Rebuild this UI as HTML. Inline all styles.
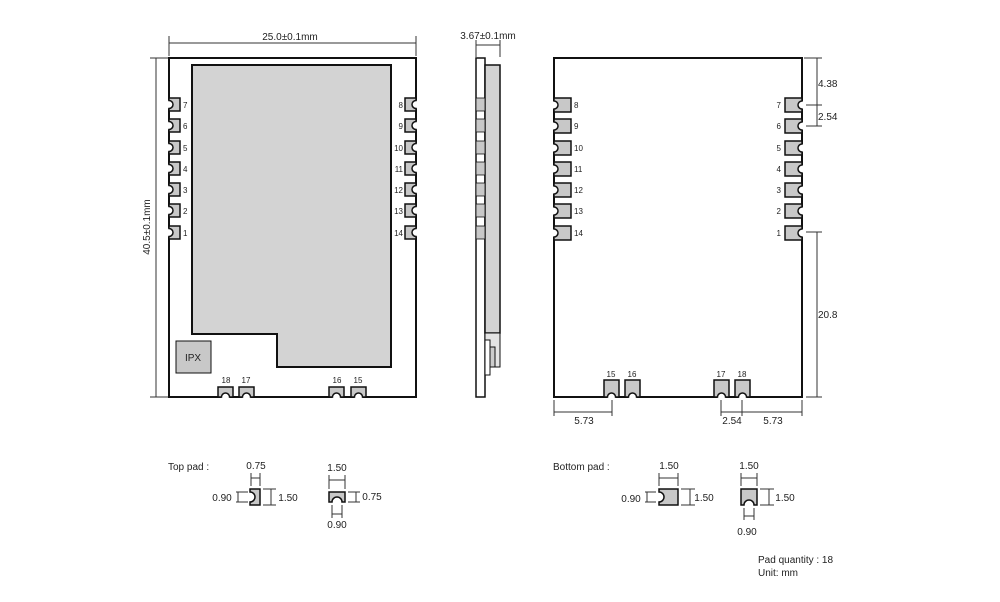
<!DOCTYPE html>
<html><head><meta charset="utf-8"><style>
html,body{margin:0;padding:0;background:#fff;}
svg{display:block;font-family:"Liberation Sans",sans-serif;}
.t{font-size:10px;fill:#222;}
.s{font-size:8px;fill:#222;}
.p{fill:#c8c8c8;stroke:#111;stroke-width:1.5;}
.d{stroke:#333;stroke-width:1;fill:none;}
</style></head><body>
<svg width="1000" height="602" viewBox="0 0 1000 602">
<!-- TOP VIEW -->
<rect x="169" y="58" width="247" height="339" fill="#fff" stroke="#111" stroke-width="2"/>
<path d="M192 65H391V367H277V334H192Z" fill="#d3d3d3" stroke="#111" stroke-width="2"/>
<rect x="176" y="341" width="35" height="32" fill="#c8c8c8" stroke="#111" stroke-width="1"/>
<text x="193" y="361" class="t" text-anchor="middle">IPX</text>
<!-- notch whites -->
<g fill="#fff">
<rect x="166" y="100.5" width="6" height="8"/><rect x="166" y="121.5" width="6" height="8"/><rect x="166" y="143.5" width="6" height="8"/><rect x="166" y="164.5" width="6" height="8"/><rect x="166" y="185.5" width="6" height="8"/><rect x="166" y="206.5" width="6" height="8"/><rect x="166" y="228.5" width="6" height="8"/>
<rect x="413" y="100.5" width="6" height="8"/><rect x="413" y="121.5" width="6" height="8"/><rect x="413" y="143.5" width="6" height="8"/><rect x="413" y="164.5" width="6" height="8"/><rect x="413" y="185.5" width="6" height="8"/><rect x="413" y="206.5" width="6" height="8"/><rect x="413" y="228.5" width="6" height="8"/>
<rect x="221.5" y="394" width="8" height="6"/><rect x="242.5" y="394" width="8" height="6"/><rect x="332.5" y="394" width="8" height="6"/><rect x="354.5" y="394" width="8" height="6"/>
</g>
<g class="p">
<path d="M169 98H180V111H169V108.5A4 4 0 0 0 169 100.5Z"/>
<path d="M169 119H180V132H169V129.5A4 4 0 0 0 169 121.5Z"/>
<path d="M169 141H180V154H169V151.5A4 4 0 0 0 169 143.5Z"/>
<path d="M169 162H180V175H169V172.5A4 4 0 0 0 169 164.5Z"/>
<path d="M169 183H180V196H169V193.5A4 4 0 0 0 169 185.5Z"/>
<path d="M169 204H180V217H169V214.5A4 4 0 0 0 169 206.5Z"/>
<path d="M169 226H180V239H169V236.5A4 4 0 0 0 169 228.5Z"/>
<path d="M416 98H405V111H416V108.5A4 4 0 0 1 416 100.5Z"/>
<path d="M416 119H405V132H416V129.5A4 4 0 0 1 416 121.5Z"/>
<path d="M416 141H405V154H416V151.5A4 4 0 0 1 416 143.5Z"/>
<path d="M416 162H405V175H416V172.5A4 4 0 0 1 416 164.5Z"/>
<path d="M416 183H405V196H416V193.5A4 4 0 0 1 416 185.5Z"/>
<path d="M416 204H405V217H416V214.5A4 4 0 0 1 416 206.5Z"/>
<path d="M416 226H405V239H416V236.5A4 4 0 0 1 416 228.5Z"/>
<path d="M218 397V387H233V397H229.5A4 4 0 0 0 221.5 397Z"/>
<path d="M239 397V387H254V397H250.5A4 4 0 0 0 242.5 397Z"/>
<path d="M329 397V387H344V397H340.5A4 4 0 0 0 332.5 397Z"/>
<path d="M351 397V387H366V397H362.5A4 4 0 0 0 354.5 397Z"/>
</g>
<g class="s">
<text x="183" y="108">7</text><text x="183" y="129">6</text><text x="183" y="151">5</text><text x="183" y="172">4</text><text x="183" y="193">3</text><text x="183" y="214">2</text><text x="183" y="236">1</text>
<g text-anchor="end"><text x="403" y="108">8</text><text x="403" y="129">9</text><text x="403" y="151">10</text><text x="403" y="172">11</text><text x="403" y="193">12</text><text x="403" y="214">13</text><text x="403" y="236">14</text></g>
<g text-anchor="middle"><text x="226" y="383">18</text><text x="246" y="383">17</text><text x="337" y="383">16</text><text x="358" y="383">15</text></g>
</g>
<!-- dims top view -->
<path class="d" d="M169 43H416M169 36V56M416 36V56M156 58V397M150 58H168M150 397H168"/>
<text x="290" y="40" class="t" text-anchor="middle">25.0±0.1mm</text>
<text x="0" y="0" class="t" text-anchor="middle" transform="translate(150 227) rotate(-90)">40.5±0.1mm</text>

<!-- SIDE VIEW -->
<rect x="476" y="58" width="9" height="339" fill="#fff" stroke="#111" stroke-width="1.5"/>
<rect x="485" y="65" width="15" height="268" fill="#d3d3d3" stroke="#111" stroke-width="1.5"/>
<rect x="485" y="333" width="15" height="34" fill="#e4e4e4" stroke="#111" stroke-width="1"/>
<rect x="485" y="340" width="5" height="35" fill="#fff" stroke="#111" stroke-width="1"/>
<rect x="490" y="347" width="5" height="20" fill="#ccc" stroke="#111" stroke-width="1"/>
<g fill="#c8c8c8" stroke="#111" stroke-width="0.8">
<rect x="476" y="98" width="9" height="13"/><rect x="476" y="119" width="9" height="13"/><rect x="476" y="141" width="9" height="13"/><rect x="476" y="162" width="9" height="13"/><rect x="476" y="183" width="9" height="13"/><rect x="476" y="204" width="9" height="13"/><rect x="476" y="226" width="9" height="13"/>
</g>
<path class="d" d="M476 45H500M476 40V57M500 40V57"/>
<text x="488" y="39" class="t" text-anchor="middle">3.67±0.1mm</text>

<!-- BOTTOM VIEW -->
<rect x="554" y="58" width="248" height="339" fill="#fff" stroke="#111" stroke-width="2"/>
<g fill="#fff">
<rect x="551" y="101" width="6" height="8"/><rect x="551" y="122" width="6" height="8"/><rect x="551" y="144" width="6" height="8"/><rect x="551" y="165" width="6" height="8"/><rect x="551" y="186" width="6" height="8"/><rect x="551" y="207" width="6" height="8"/><rect x="551" y="229" width="6" height="8"/>
<rect x="799" y="101" width="6" height="8"/><rect x="799" y="122" width="6" height="8"/><rect x="799" y="144" width="6" height="8"/><rect x="799" y="165" width="6" height="8"/><rect x="799" y="186" width="6" height="8"/><rect x="799" y="207" width="6" height="8"/><rect x="799" y="229" width="6" height="8"/>
<rect x="607.5" y="394" width="8" height="6"/><rect x="628.5" y="394" width="8" height="6"/><rect x="717.5" y="394" width="8" height="6"/><rect x="738.5" y="394" width="8" height="6"/>
</g>
<g class="p">
<path d="M554 98H571V112H554V109A4 4 0 0 0 554 101Z"/>
<path d="M554 119H571V133H554V130A4 4 0 0 0 554 122Z"/>
<path d="M554 141H571V155H554V152A4 4 0 0 0 554 144Z"/>
<path d="M554 162H571V176H554V173A4 4 0 0 0 554 165Z"/>
<path d="M554 183H571V197H554V194A4 4 0 0 0 554 186Z"/>
<path d="M554 204H571V218H554V215A4 4 0 0 0 554 207Z"/>
<path d="M554 226H571V240H554V237A4 4 0 0 0 554 229Z"/>
<path d="M802 98H785V112H802V109A4 4 0 0 1 802 101Z"/>
<path d="M802 119H785V133H802V130A4 4 0 0 1 802 122Z"/>
<path d="M802 141H785V155H802V152A4 4 0 0 1 802 144Z"/>
<path d="M802 162H785V176H802V173A4 4 0 0 1 802 165Z"/>
<path d="M802 183H785V197H802V194A4 4 0 0 1 802 186Z"/>
<path d="M802 204H785V218H802V215A4 4 0 0 1 802 207Z"/>
<path d="M802 226H785V240H802V237A4 4 0 0 1 802 229Z"/>
<path d="M604 397V380H619V397H615.5A4 4 0 0 0 607.5 397Z"/>
<path d="M625 397V380H640V397H636.5A4 4 0 0 0 628.5 397Z"/>
<path d="M714 397V380H729V397H725.5A4 4 0 0 0 717.5 397Z"/>
<path d="M735 397V380H750V397H746.5A4 4 0 0 0 738.5 397Z"/>
</g>
<g class="s">
<text x="574" y="108">8</text><text x="574" y="129">9</text><text x="574" y="151">10</text><text x="574" y="172">11</text><text x="574" y="193">12</text><text x="574" y="214">13</text><text x="574" y="236">14</text>
<g text-anchor="end"><text x="781" y="108">7</text><text x="781" y="129">6</text><text x="781" y="151">5</text><text x="781" y="172">4</text><text x="781" y="193">3</text><text x="781" y="214">2</text><text x="781" y="236">1</text></g>
<g text-anchor="middle"><text x="611" y="377">15</text><text x="632" y="377">16</text><text x="721" y="377">17</text><text x="742" y="377">18</text></g>
</g>
<path class="d" d="M817 58V126M804 58H822M806 105H822M806 126H822M817 232V397M806 232H822M806 397H822"/>
<path class="d" d="M554 412H612M554 400V416M612 400V416M721 412H802M721 400V416M742 400V416M802 400V416"/>
<g class="t">
<text x="818" y="87">4.38</text><text x="818" y="120">2.54</text><text x="818" y="318">20.8</text>
<text x="584" y="424" text-anchor="middle">5.73</text><text x="732" y="424" text-anchor="middle">2.54</text><text x="773" y="424" text-anchor="middle">5.73</text>
</g>

<!-- PAD DETAILS -->
<g class="t">
<text x="168" y="470">Top pad :</text>
<text x="256" y="469" text-anchor="middle">0.75</text>
<text x="222" y="501" text-anchor="middle">0.90</text>
<text x="288" y="501" text-anchor="middle">1.50</text>
<text x="337" y="471" text-anchor="middle">1.50</text>
<text x="372" y="500" text-anchor="middle">0.75</text>
<text x="337" y="528" text-anchor="middle">0.90</text>
<text x="553" y="470">Bottom pad :</text>
<text x="669" y="469" text-anchor="middle">1.50</text>
<text x="631" y="502" text-anchor="middle">0.90</text>
<text x="704" y="501" text-anchor="middle">1.50</text>
<text x="749" y="469" text-anchor="middle">1.50</text>
<text x="785" y="501" text-anchor="middle">1.50</text>
<text x="747" y="535" text-anchor="middle">0.90</text>
<text x="758" y="563">Pad quantity : 18</text>
<text x="758" y="576">Unit:  mm</text>
</g>
<g class="p">
<path d="M250 489H260V505H250V502A5 5 0 0 0 250 492Z"/>
<path d="M329 502V492H345V502H342A5 5 0 0 0 332 502Z"/>
<path d="M659 489H678V505H659V502A5 5 0 0 0 659 492Z"/>
<path d="M741 505V489H757V505H754A5 5 0 0 0 744 505Z"/>
</g>
<path class="d" d="M251 473V486M260 473V486M251 478H260M236 492H248M236 502H248M238 492V502M263 489H276M263 505H276M271 489V505"/>
<path class="d" d="M329 475V489M345 475V489M329 480H345M348 492H360M348 502H360M356 492V502M332 505V518M342 505V518M332 514H342"/>
<path class="d" d="M659 473V486M678 473V486M659 478H678M645 492H656M645 502H656M647 492V502M681 489H695M681 505H695M690 489V505"/>
<path class="d" d="M741 473V486M757 473V486M741 478H757M760 489H774M760 505H774M769 489V505M744 508V520M754 508V520M744 516H754"/>
</svg>
</body></html>
